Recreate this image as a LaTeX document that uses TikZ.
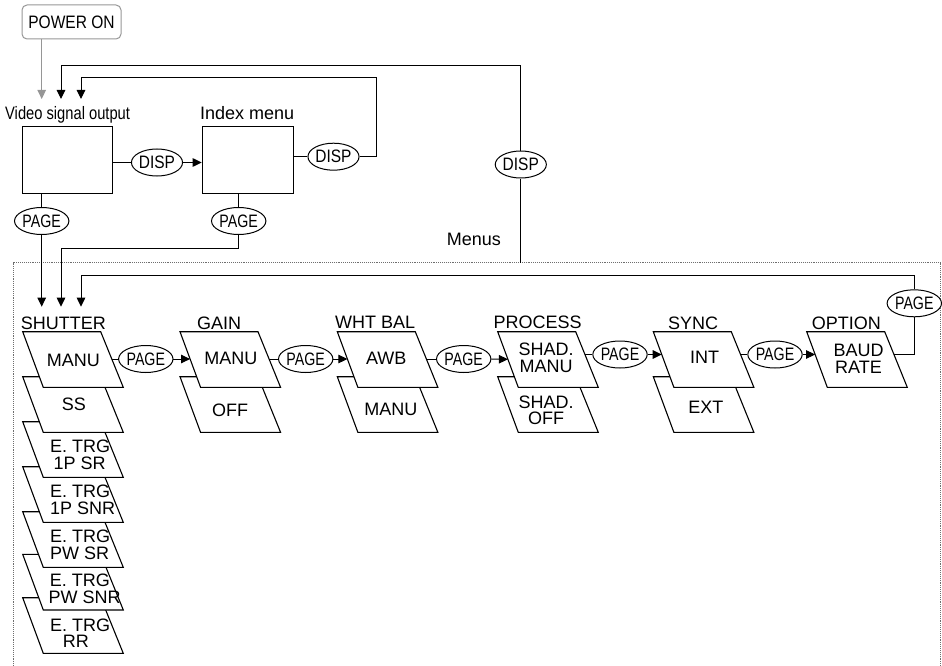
\documentclass[tikz,border=0pt]{standalone}
\usepackage{fontspec}
\setmainfont{Liberation Sans}
\usepackage{graphicx}
\usetikzlibrary{arrows.meta,shapes.geometric}
\definecolor{pgray}{RGB}{150,150,150}
\definecolor{fgray}{RGB}{110,110,110}
\tikzset{
  base/.style={line width=1pt},
  arr/.style={line width=1pt,-{Triangle[length=9pt,width=8.5pt]}},
  garr/.style={line width=1pt,draw=pgray,-{Triangle[length=9pt,width=8.5pt]},fill=pgray},
  pg/.style={line width=1.1pt,fill=white,line join=miter},
  oval/.style={ellipse,draw,line width=1pt,fill=white,minimum width=46pt,minimum height=27pt,inner sep=0pt},
  lbl/.style={inner sep=0pt,font=\fontsize{18}{16.5}\selectfont},
  btext/.style={inner sep=0pt,align=center,font=\fontsize{18}{16.5}\selectfont},
  stext/.style={inner sep=0pt,align=left,anchor=west,font=\fontsize{18}{16.5}\selectfont},
  scr/.style={draw,line width=1pt,inner sep=0pt,anchor=north west},
  frame/.style={densely dotted,draw=fgray,line width=0.9pt}
}
\newcommand\pgbox[5]{%
  \draw[pg] (#2,#3) -- ({#2+78},#3) -- ({#2+100.6},{#3+55.7}) -- ({#2+20.6},{#3+55.7}) -- cycle;
  \coordinate (#1-l) at ({#2+20.6*(#4-#3)/55.7},#4);
  \coordinate (#1-r) at ({#2+78+22.6*(#5-#3)/55.7},#5);
}
\newcommand\pgpage{\scalebox{0.79}[1]{PAGE}}
\newcommand\pgdisp{\scalebox{0.86}[1]{DISP}}
\begin{document}
\begin{tikzpicture}[x=1pt,y=-1pt]
\useasboundingbox (0,0) rectangle (942,666);

% dotted Menus frame
\draw[frame] (13.3,666) -- (13.3,262.5) -- (940,262.5) -- (940,666);

% top part
\node[draw=pgray,line width=1pt,rounded corners=5pt,minimum width=99pt,minimum height=34pt,inner sep=0pt,font=\fontsize{18}{18}\selectfont] (power) at (71.5,22) {\scalebox{0.863}[1]{POWER ON}};
\node[scr,minimum width=90pt,minimum height=66.7pt] (video) at (22,126) {};
\node[scr,minimum width=91pt,minimum height=66.7pt] (index) at (201.7,126) {};
\node[lbl,anchor=base west] (lvideo) at (5,120) {\scalebox{0.817}[1]{Video signal output}};
\node[lbl,anchor=base west] (lindex) at (200,120) {Index menu};
\node[lbl,anchor=base west] (lmenus) at (446.7,245) {Menus};

\node[oval,lbl] (disp1) at (157,162.5) {\pgdisp};
\node[oval,lbl] (disp2) at (333.5,156.7) {\pgdisp};
\node[oval,lbl] (disp3) at (520.8,164.5) {\pgdisp};
\node[oval,lbl] (pagev) at (41.7,221) {\pgpage};
\node[oval,lbl] (pagei) at (238.7,221) {\pgpage};

\coordinate (a41) at (41.7,99);
\coordinate (a61) at (61,99);
\coordinate (a81) at (81,99);
\coordinate (r1) at (520.8,66);
\coordinate (r2) at (376.7,77.3);
\coordinate (ftop) at (520.8,262.5);
\coordinate (s41) at (41.7,306.7);
\coordinate (s61) at (61,306.7);
\coordinate (s81) at (81,306.7);
\coordinate (b1) at (61,248.3);
\coordinate (b2) at (81,275);

\draw[garr] (power.south -| a41) -- (a41);
\draw[base] (ftop) -- (disp3);
\draw[arr] (disp3) -- (r1) -| (a61);
\draw[base] (index.east |- disp2) -- (disp2);
\draw[arr] (disp2) -| (r2) -| (a81);
\draw[base] (video.east |- disp1) -- (disp1);
\draw[arr] (disp1) -- (index.west |- disp1);
\draw[base] (video.south -| pagev) -- (pagev);
\draw[arr] (pagev) -- (s41);
\draw[base] (index.south -| pagei) -- (pagei);
\draw[arr] (pagei) |- (b1) -- (s61);

% column labels
\node[lbl,anchor=base west] (lshut) at (20.7,329) {SHUTTER};
\node[lbl,anchor=base west] (lgain) at (197,329) {GAIN};
\node[lbl,anchor=base west] (lwb) at (335,328.3) {WHT BAL};
\node[lbl,anchor=base west] (lproc) at (493.3,328.3) {PROCESS};
\node[lbl,anchor=base west] (lsync) at (668,329) {SYNC};
\node[lbl,anchor=base west] (lopt) at (811.7,329) {OPTION};

% shutter stack (bottom first)
\pgbox{sh7}{22.7}{597.7}{620}{620}
\pgbox{sh6}{22.7}{554.3}{580}{580}
\pgbox{sh5}{22.7}{511.7}{540}{540}
\pgbox{sh4}{22.7}{466.7}{495}{495}
\pgbox{sh3}{22.7}{421.7}{450}{450}
\pgbox{sh2}{22.7}{376.7}{405}{405}
\pgbox{sh1}{22.7}{331.7}{359}{359}
% gain
\pgbox{ga2}{180}{376.7}{405}{405}
\pgbox{ga1}{180}{331.7}{359}{359}
% white balance
\pgbox{wb2}{337.3}{376.7}{405}{405}
\pgbox{wb1}{337.3}{331.7}{359}{359}
% process
\pgbox{pr2}{497.7}{376.7}{405}{405}
\pgbox{pr1}{497.7}{331.7}{359.3}{354.5}
% sync
\pgbox{sy2}{653.3}{376.7}{405}{405}
\pgbox{sy1}{653.3}{331.7}{354.5}{354.5}
% option
\pgbox{op1}{806.7}{331.7}{354.5}{354.5}

% box texts
\node[btext] (tsh1) at (73.3,360) {MANU};
\node[btext] (tsh2) at (73.8,404.7) {SS};
\node[stext] (tsh3) at (50,454.8) {E. TRG\\\hspace*{3.3pt}1P SR};
\node[stext] (tsh4) at (50,499.7) {E. TRG\\1P SNR};
\node[stext] (tsh5) at (50,545) {E. TRG\\PW SR};
\node[stext] (tsh6) at (48.5,589) {\hspace*{1.2pt}E. TRG\\PW SNR};
\node[stext] (tsh7) at (50,633.3) {E. TRG\\\hspace*{12.7pt}RR};
\node[btext] (tga1) at (230.8,358.8) {MANU};
\node[btext] (tga2) at (230,410.3) {OFF};
\node[btext] (twb1) at (386.2,358.8) {AWB};
\node[btext] (twb2) at (390.8,409.3) {MANU};
\node[btext] (tpr1) at (546,357.8) {SHAD.\\MANU};
\node[btext] (tpr2) at (546,410.3) {SHAD.\\OFF};
\node[btext] (tsy1) at (704.5,357.3) {INT};
\node[btext] (tsy2) at (705.8,407) {EXT};
\node[btext] (top1) at (858.5,358.8) {BAUD\\RATE};

% PAGE chain
\node[oval,lbl] (p1) at (145.8,359) {\pgpage};
\node[oval,lbl] (p2) at (305.7,359) {\pgpage};
\node[oval,lbl] (p3) at (463.7,359) {\pgpage};
\node[oval,lbl] (p4) at (620,354.5) {\pgpage};
\node[oval,lbl] (p5) at (775,354.5) {\pgpage};
\node[oval,lbl] (p6) at (914.3,303.3) {\pgpage};

\draw[base] (sh1-r) -- (p1);
\draw[arr] (p1) -- (ga1-l);
\draw[base] (ga1-r) -- (p2);
\draw[arr] (p2) -- (wb1-l);
\draw[base] (wb1-r) -- (p3);
\draw[arr] (p3) -- (pr1-l);
\draw[base] (pr1-r) -- (p4);
\draw[arr] (p4) -- (sy1-l);
\draw[base] (sy1-r) -- (p5);
\draw[arr] (p5) -- (op1-l);
\draw[base] (op1-r) -| (p6);
\draw[arr] (p6) |- (b2) -- (s81);
\end{tikzpicture}
\end{document}
